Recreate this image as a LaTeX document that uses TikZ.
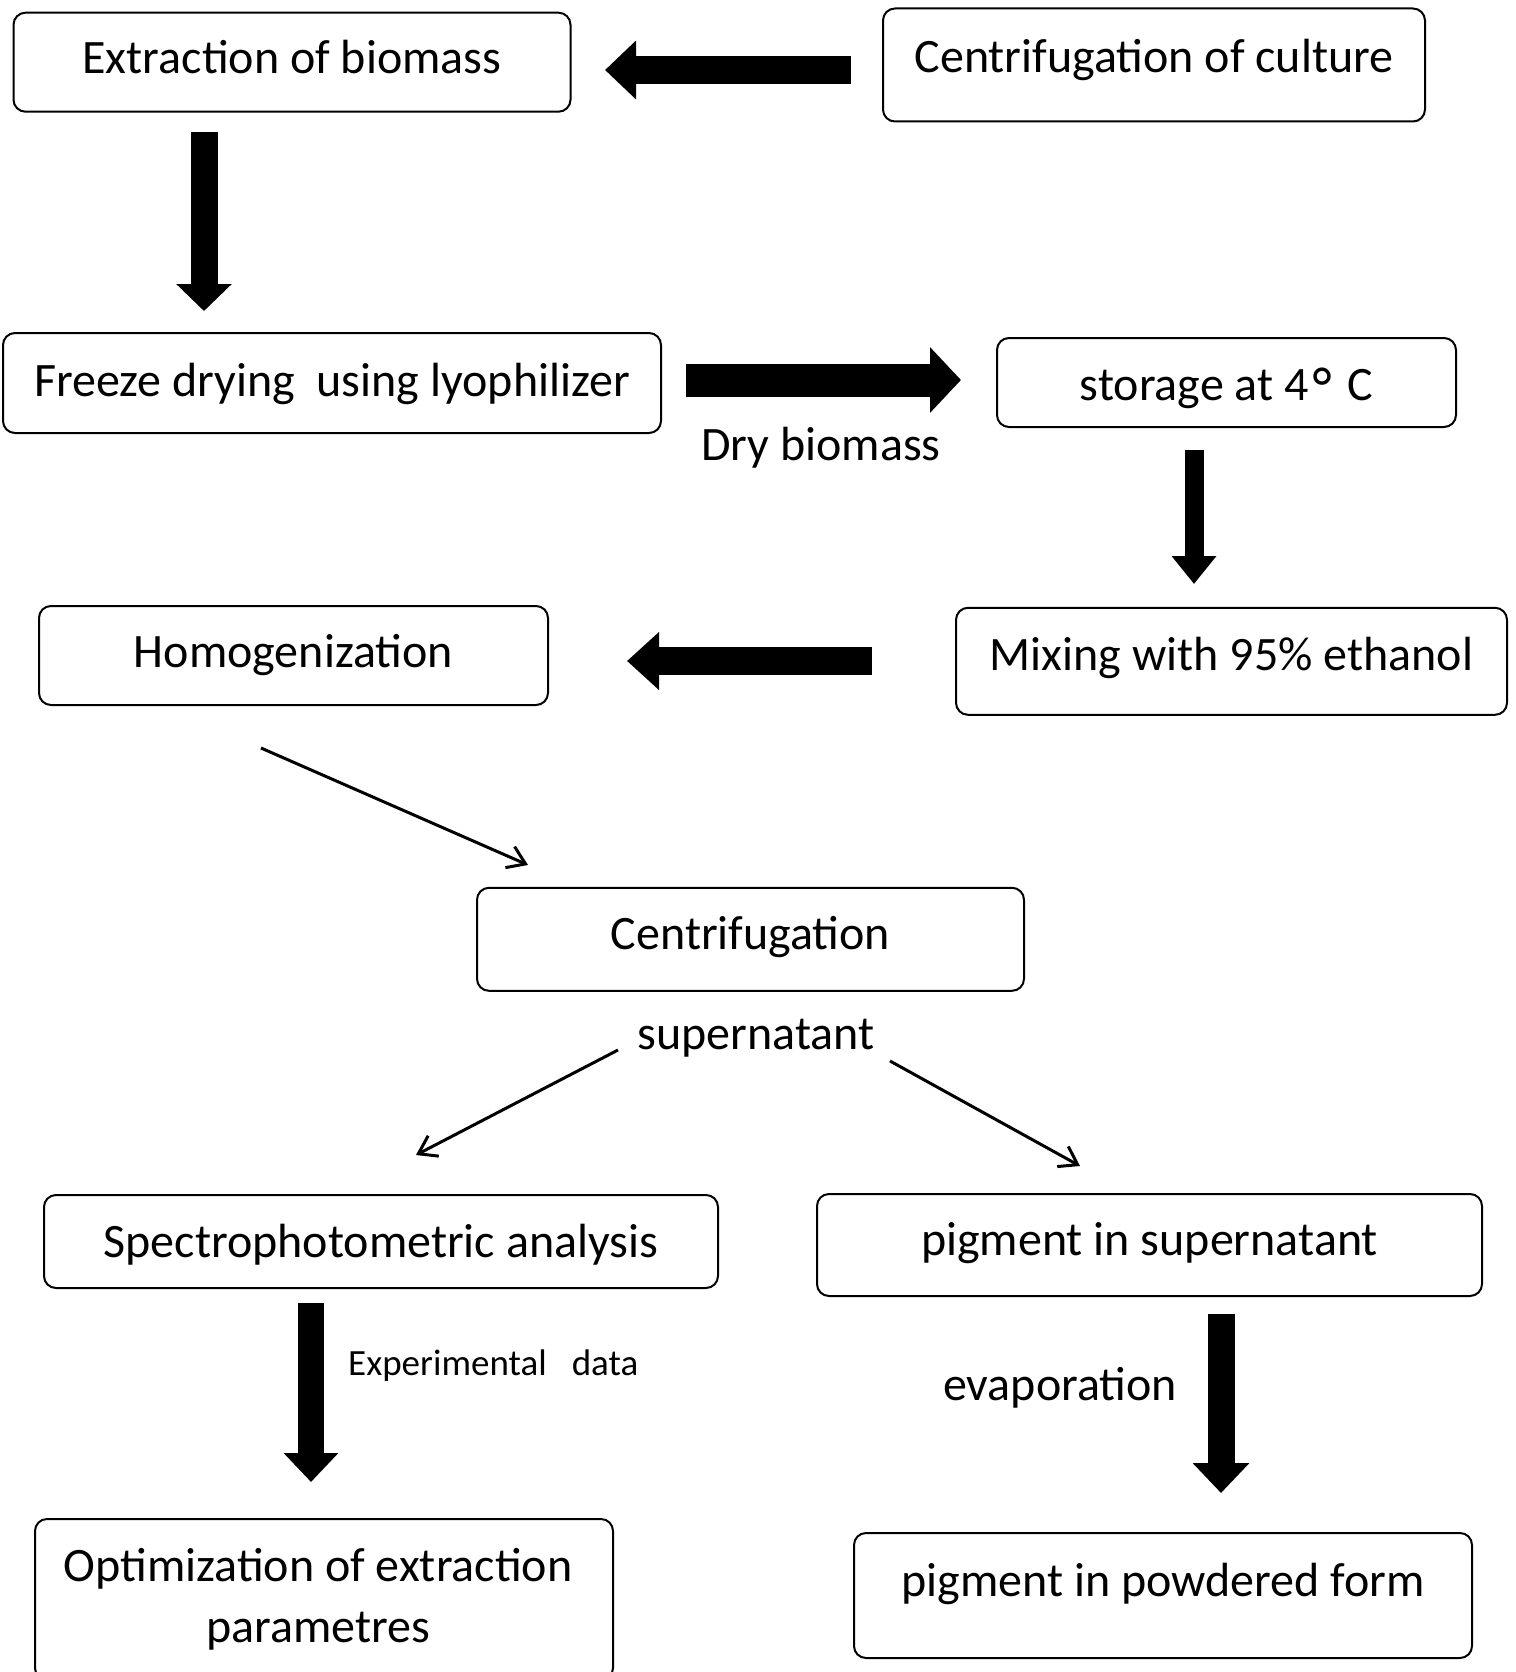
\documentclass[tikz,border=0pt]{standalone}
\usepackage{fontspec}
\setmainfont{Carlito}
\newfontfamily\ringfont{DejaVu Sans}
\usetikzlibrary{arrows.meta}
\newlength{\du}
\setlength{\du}{1pt}
\tikzset{
  stepbox/.style={draw, rounded corners=12\du, line width=2\du, inner sep=0pt,
    align=center, text depth=10\du, font=\fontsize{48}{61}\selectfont},
  steplabel/.style={inner sep=0pt, font=\fontsize{48}{61}\selectfont},
  fatarrow/.style n args={3}{line width=#1pt, -{Triangle[length=#3pt,width=#2pt]}},
  thinarrow/.style={line width=3\du, -{Straight Barb[length=17pt,width=23pt]}},
}
\newcommand{\degring}{\raisebox{-9\du}{\ringfont\fontsize{56}{56}\selectfont °}}

\begin{document}
\begin{tikzpicture}
\pgftransformxscale{1.000000}
\pgftransformyscale{-1.000000}
\definecolor{dialinecolor}{rgb}{0.000000, 0.000000, 0.000000}
\pgfsetstrokecolor{dialinecolor}
\useasboundingbox (0\du,0\du) rectangle (1515\du,1672\du);
% boxes
\node[stepbox, minimum width=557\du, minimum height=99\du, text height=32\du] (extract) at (292.000000\du,62.200000\du){Extraction of biomass};
\node[stepbox, minimum width=542\du, minimum height=113\du, text height=26\du] (culture) at (1154.000000\du,65.000000\du){Centrifugation of culture};
\node[stepbox, minimum width=658\du, minimum height=100\du, text height=37\du] (freeze) at (332.000000\du,383.000000\du){Freeze drying\ \ using lyophilizer};
\node[stepbox, minimum width=459\du, minimum height=89\du, text height=45\du] (storage) at (1226.500000\du,382.500000\du){storage at 4\degring\ C};
\node[stepbox, minimum width=551\du, minimum height=107\du, text height=29\du] (mixing) at (1231.500000\du,661.300000\du){Mixing with 95\% ethanol};
\node[stepbox, minimum width=509\du, minimum height=99\du, text height=33\du] (homog) at (293.500000\du,655.500000\du){Homogenization};
\node[stepbox, minimum width=547\du, minimum height=103\du, text height=31\du] (centrif) at (750.500000\du,939.300000\du){Centrifugation};
\node[stepbox, minimum width=674\du, minimum height=93\du, text height=41\du] (spectro) at (381.000000\du,1241.500000\du){Spectrophotometric analysis};
\node[stepbox, minimum width=665\du, minimum height=102\du, text height=31\du] (pigsuper) at (1149.500000\du,1245.000000\du){pigment in supernatant};
\node[stepbox, minimum width=578\du, minimum height=161\du, text depth=, text height=] (optim) at (324.000000\du,1599.500000\du){Optimization of extraction\hspace*{12\du}\\parametres\hspace*{12\du}};
\node[stepbox, minimum width=618\du, minimum height=125\du, text height=12\du] (powder) at (1163.000000\du,1595.500000\du){pigment in powdered form};
% labels
\node[steplabel] (drylbl) at (821.000000\du,448.000000\du){Dry biomass};
\node[steplabel] (superlbl) at (756.000000\du,1038.000000\du){supernatant};
\node[steplabel] (evaplbl) at (1060.000000\du,1388.000000\du){evaporation};
\node[steplabel, anchor=west, font=\fontsize{37}{44}\selectfont] (explbl) at (348.000000\du,1366.000000\du){Experimental\ \ \ data};
% block arrows
\coordinate (a1s) at (851.000000\du,70.000000\du);
\coordinate (a1e) at (605.000000\du,70.000000\du);
\draw[fatarrow={28}{57}{31}] (a1s) -- (a1e);
\coordinate (a2s) at (204.000000\du,132.000000\du);
\coordinate (a2e) at (204.000000\du,311.000000\du);
\draw[fatarrow={27}{54}{27}] (a2s) -- (a2e);
\coordinate (a3s) at (686.000000\du,380.000000\du);
\coordinate (a3e) at (961.000000\du,380.000000\du);
\draw[fatarrow={33}{64}{31}] (a3s) -- (a3e);
\coordinate (a4s) at (1194.000000\du,450.000000\du);
\coordinate (a4e) at (1194.000000\du,584.000000\du);
\draw[fatarrow={19}{43}{28}] (a4s) -- (a4e);
\coordinate (a5s) at (872.000000\du,661.000000\du);
\coordinate (a5e) at (627.000000\du,661.000000\du);
\draw[fatarrow={28}{56}{32}] (a5s) -- (a5e);
\coordinate (a6s) at (311.000000\du,1303.000000\du);
\coordinate (a6e) at (311.000000\du,1482.000000\du);
\draw[fatarrow={26}{53}{29}] (a6s) -- (a6e);
\coordinate (a7s) at (1221.000000\du,1314.000000\du);
\coordinate (a7e) at (1221.000000\du,1493.000000\du);
\draw[fatarrow={27}{55}{30}] (a7s) -- (a7e);
% thin arrows
\coordinate (t1s) at (261.000000\du,748.000000\du);
\coordinate (t1e) at (528.000000\du,865.000000\du);
\draw[thinarrow] (t1s) -- (t1e);
\coordinate (t2s) at (618.000000\du,1050.000000\du);
\coordinate (t2e) at (416.000000\du,1155.000000\du);
\draw[thinarrow] (t2s) -- (t2e);
\coordinate (t3s) at (890.000000\du,1061.000000\du);
\coordinate (t3e) at (1080.000000\du,1166.000000\du);
\draw[thinarrow] (t3s) -- (t3e);
\end{tikzpicture}
\end{document}
